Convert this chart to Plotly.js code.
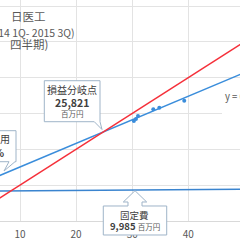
<!DOCTYPE html>
<html><head><meta charset="utf-8">
<script src="https://cdn.plot.ly/plotly-3.0.1.min.js"></script>
<style>html,body{margin:0;padding:0;background:#fff;}#chart{width:240px;height:240px;}</style>
</head><body><div id="chart"></div>
<script>
// data (sales in 十億円 on x, cost in 百万円 on y)
const salesX = [30.30, 30.67, 31.03, 33.76, 34.83, 39.28];
const costY = [27920, 28480, 29310, 31180, 31630, 33590];
const lineX = [0, 50];
const revenueY = [0, 50000];
const trendY = [8500, 41400];
const fixedY = [8300, 8900];
const xTicks = [10, 20, 30, 40];
const titleLines = ["日医工", "(2014 1Q- 2015 3Q)", "四半期)"];
const beLabel = ["損益分岐点", "25,821", "百万円"];
const fixedLabel = ["固定費", "9,985", "百万円"];
const leftLabel = ["総費用", "61.3%"];
const eqLabel = "y = 0.6133x + 9984.6";

const W = 240, PB = 221;
const X = p => p / W;
const Y = p => (PB - p) / PB;
function poly(pts) {
  return pts.map((p, i) => (i ? 'L' : 'M') + X(p[0]).toFixed(4) + ',' + Y(p[1]).toFixed(4)).join(' ') + ' Z';
}
const F = '"Noto Sans CJK JP", "Noto Sans", sans-serif';
const grey = '#595959', dark = '#404040', border = '#9fb4c8';

const traces = [
  {x: lineX, y: fixedY, mode: 'lines', line: {color: '#3a84cf', width: 1.5}, hoverinfo: 'skip'},
  {x: lineX, y: trendY, mode: 'lines', line: {color: '#3a8ddb', width: 1.5}, hoverinfo: 'skip'},
  {x: lineX, y: revenueY, mode: 'lines', line: {color: '#f5303a', width: 1.5}, hoverinfo: 'skip'},
  {x: salesX, y: costY, mode: 'markers', marker: {color: '#3a8ddb', size: 4}, hoverinfo: 'skip'}
];

function ann(text, x, y, size, color, anchor, extra) {
  return Object.assign({text: text, xref: 'paper', yref: 'paper', x: X(x), y: Y(y),
    xanchor: anchor || 'center', yanchor: 'middle', showarrow: false,
    font: {family: F, size: size, color: color}, borderpad: 0}, extra || {});
}

const layout = {
  width: 240, height: 240, autosize: false,
  margin: {l: 0, r: 0, t: 0, b: 19, pad: 0},
  paper_bgcolor: '#fff', plot_bgcolor: '#fff', showlegend: false,
  xaxis: {range: [6.43, 49.22], tickvals: xTicks, ticktext: xTicks.map(String),
    showgrid: true, gridcolor: '#e3e3e3', gridwidth: 1, zeroline: false, showline: false,
    ticks: '', tickfont: {family: F, size: 10, color: grey}, ticklabelstandoff: 6},
  yaxis: {range: [0, 61700], dtick: 10000, showticklabels: false, showgrid: true,
    gridcolor: '#e3e3e3', gridwidth: 1, zeroline: true, zerolinecolor: '#d9d9d9', zerolinewidth: 1, showline: false, ticks: ''},
  shapes: [
    {type: 'rect', xref: 'paper', yref: 'paper', x0: X(222), x1: X(241), y0: Y(116), y1: Y(84),
      fillcolor: '#fff', line: {width: 0}, layer: 'above'},
    {type: 'path', xref: 'paper', yref: 'paper', layer: 'above', fillcolor: '#fff', line: {color: border, width: 1},
      path: poly([[44.3, 80.7], [100, 80.7], [100, 121.7], [102, 129.5], [94.3, 121.7], [44.3, 121.7]])},
    {type: 'path', xref: 'paper', yref: 'paper', layer: 'above', fillcolor: '#fff', line: {color: border, width: 1},
      path: poly([[-10, 130.7], [16, 130.7], [16, 161.7], [15, 161.7], [4, 171], [9, 161.7], [-10, 161.7]])},
    {type: 'path', xref: 'paper', yref: 'paper', layer: 'above', fillcolor: '#fff', line: {color: border, width: 1},
      path: poly([[103.3, 206], [128, 206], [128, 202], [123.3, 202], [135, 190.7], [146.7, 202], [142, 202], [142, 206], [166.7, 206], [166.7, 235], [103.3, 235]])}
  ],
  annotations: [
    ann(titleLines[0], 28, 16, 11.5, grey),
    ann(titleLines[1], 76, 32, 10.5, grey, 'right'),
    ann(titleLines[2], 29, 44.5, 11.5, grey),
    ann(beLabel[0], 72, 89.5, 10, dark),
    ann('<b>' + beLabel[1] + '</b>', 72, 102.5, 10.5, dark),
    ann(beLabel[2], 72, 114, 7.5, grey),
    ann(leftLabel[0], 10.5, 138.5, 10, dark, 'right'),
    ann('<b>' + leftLabel[1] + '</b>', 4.5, 152, 10.5, dark, 'right'),
    ann(fixedLabel[0], 134, 214.5, 9.5, dark),
    ann('<b>' + fixedLabel[1] + '</b> <span style="font-size:7.5px;color:#595959">' + fixedLabel[2] + '</span>', 134.5, 226.5, 9.5, dark),
    ann(eqLabel, 224, 96, 9.5, grey, 'left')
  ]
};
Plotly.newPlot('chart', traces, layout, {staticPlot: true, displayModeBar: false});
</script></body></html>
